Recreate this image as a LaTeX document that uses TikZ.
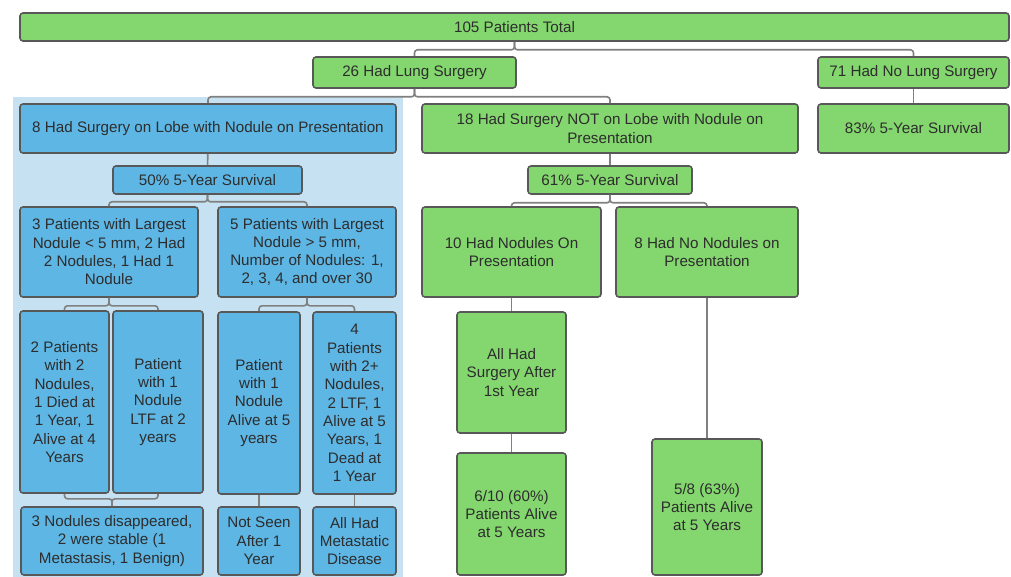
\documentclass[tikz,border=0pt]{standalone}
\usepackage{fontspec}
\setmainfont{Liberation Sans}
\definecolor{lucgreen}{RGB}{132,215,110}
\definecolor{lucblue}{RGB}{94,182,228}
\definecolor{lucpale}{RGB}{198,226,242}
\definecolor{lucedge}{RGB}{88,88,88}
\definecolor{lucline}{RGB}{128,128,128}
\definecolor{luctext}{RGB}{45,45,45}
\begin{document}
\begin{tikzpicture}[x=1pt, y=-1pt,
	box/.style={draw=lucedge, line width=1.6pt, rounded corners=3pt, inner sep=0pt, align=center, text=luctext,
		font=\fontsize{15.2}{18.3}\selectfont},
	greenbox/.style={box, fill=lucgreen},
	bluebox/.style={box, fill=lucblue},
	link/.style={draw=lucline, line width=1.6pt, rounded corners=3pt}]

	\useasboundingbox (0,0) rectangle (1011,577);
	% shaded group
	\fill[lucpale] (13,97) rectangle (403,577);

	% Define nodes with their coordinates
	\node[greenbox, minimum width=989, minimum height=28] (total) at (514.5,27) {105 Patients Total};
	\node[greenbox, minimum width=203, minimum height=31] (surg) at (414.5,72.5) {26 Had Lung Surgery};
	\node[greenbox, minimum width=191, minimum height=31] (nosurg) at (913.5,72.5) {71 Had No Lung Surgery};

	\node[bluebox, minimum width=376, minimum height=49] (lobe) at (208,128.5) {8 Had Surgery on Lobe with Nodule on Presentation};
	\node[greenbox, minimum width=376, minimum height=49] (notlobe) at (610,128.5) {18 Had Surgery NOT on Lobe with Nodule on\\Presentation};
	\node[greenbox, minimum width=191, minimum height=49] (surv83) at (913.5,128.5) {83\% 5-Year Survival};

	\node[bluebox, minimum width=189, minimum height=28] (surv50) at (207.5,180) {50\% 5-Year Survival};
	\node[greenbox, minimum width=164, minimum height=28] (surv61) at (610,180) {61\% 5-Year Survival};

	\node[bluebox, minimum width=178, minimum height=90] (small) at (109,252) {3 Patients with Largest\\Nodule < 5 mm, 2 Had\\2 Nodules, 1 Had 1\\Nodule};
	\node[bluebox, minimum width=178, minimum height=90] (large) at (307,252) {5 Patients with Largest\\Nodule > 5 mm,\\Number of Nodules: 1,\\2, 3, 4, and over 30};
	\node[greenbox, minimum width=179, minimum height=90] (withnod) at (511.5,252) {10 Had Nodules On\\Presentation};
	\node[greenbox, minimum width=182, minimum height=90] (nonod) at (707,252) {8 Had No Nodules on\\Presentation};

	\node[bluebox, minimum width=89, minimum height=182] (twopat) at (64.5,402) {2 Patients\\with 2\\Nodules,\\1 Died at\\1 Year, 1\\Alive at 4\\Years};
	\node[bluebox, minimum width=90, minimum height=182] (ltf) at (158,402) {Patient\\with 1\\Nodule\\LTF at 2\\years};
	\node[bluebox, minimum width=82, minimum height=182] (alive) at (259,403) {Patient\\with 1\\Nodule\\Alive at 5\\years};
	\node[bluebox, minimum width=83, minimum height=182] (fourpat) at (354.5,403) {4\\Patients\\with 2+\\Nodules,\\2 LTF, 1\\Alive at 5\\Years, 1\\Dead at\\1 Year};
	\node[greenbox, minimum width=109, minimum height=121] (later) at (511.5,372.5) {All Had\\Surgery After\\1st Year};

	\node[bluebox, minimum width=182, minimum height=68] (gone) at (112,541) {3 Nodules disappeared,\\2 were stable (1\\Metastasis, 1 Benign)};
	\node[bluebox, minimum width=82, minimum height=68] (unseen) at (259,541) {Not Seen\\After 1\\Year};
	\node[bluebox, minimum width=83, minimum height=68] (meta) at (354.5,541) {All Had\\Metastatic\\Disease};
	\node[greenbox, minimum width=109, minimum height=122] (six) at (511.5,514) {6/10 (60\%)\\Patients Alive\\at 5 Years};
	\node[greenbox, minimum width=110, minimum height=136] (five) at (707,507) {5/8 (63\%)\\Patients Alive\\at 5 Years};

	% Draw connectors
	\draw[link] (total.south) -- ++(0,8) -| (surg.north);
	\draw[link] (total.south) -- ++(0,8) -| (nosurg.north);
	\draw[link] (surg.south) -- ++(0,8) -| (lobe.north);
	\draw[link] (surg.south) -- ++(0,8) -| (notlobe.north);
	\draw[link] (nosurg) -- (surv83);
	\draw[link] (lobe) -- (surv50);
	\draw[link] (notlobe) -- (surv61);
	\draw[link] (surv50.south) -- ++(0,7) -| (small.north);
	\draw[link] (surv50.south) -- ++(0,7) -| (large.north);
	\draw[link] (surv61.south) -- ++(0,8) -| (withnod.north);
	\draw[link] (surv61.south) -- ++(0,8) -| (nonod.north);
	\draw[link] (small.south) -- ++(0,8) -| (twopat.north);
	\draw[link] (small.south) -- ++(0,8) -| (ltf.north);
	\draw[link] (large.south) -- ++(0,8) -| (alive.north);
	\draw[link] (large.south) -- ++(0,8) -| (fourpat.north);
	\draw[link] (twopat.south) -- ++(0,5) -| (gone.north);
	\draw[link] (ltf.south) -- ++(0,5) -| (gone.north);
	\draw[link] (alive) -- (unseen);
	\draw[link] (fourpat) -- (meta);
	\draw[link] (withnod) -- (later);
	\draw[line width=2pt, lucedge] ([xshift=-10pt,yshift=-1pt]later.north) -- ([xshift=10pt,yshift=-1pt]later.north);
	\draw[link] (later) -- (six);
	\draw[link] (nonod) -- (five);

\end{tikzpicture}
\end{document}
